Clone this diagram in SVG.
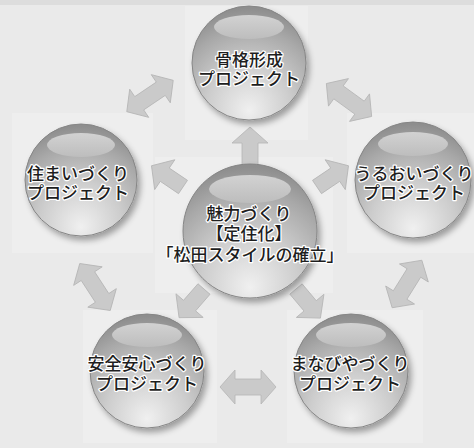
<svg xmlns="http://www.w3.org/2000/svg" xmlns:xlink="http://www.w3.org/1999/xlink" width="474" height="448" viewBox="0 0 474 448">
<defs>
<radialGradient id="ball" cx="50%" cy="82%" r="80%" fx="50%" fy="92%">
<stop offset="0" stop-color="#f0f0f0"/>
<stop offset="0.45" stop-color="#cdcdcd"/>
<stop offset="0.8" stop-color="#a8a8a8"/>
<stop offset="1" stop-color="#8e8e8e"/>
</radialGradient>
<linearGradient id="hl" x1="0" y1="0" x2="0" y2="1">
<stop offset="0" stop-color="#d2d2d2"/>
<stop offset="1" stop-color="#bdbdbd"/>
</linearGradient>
<filter id="sh" x="-30%" y="-30%" width="160%" height="160%">
<feGaussianBlur in="SourceAlpha" stdDeviation="3"/>
<feOffset dx="3" dy="4"/>
<feComponentTransfer><feFuncA type="linear" slope="0.35"/></feComponentTransfer>
<feMerge><feMergeNode/><feMergeNode in="SourceGraphic"/></feMerge>
</filter>
<path id="arr" d="M0,-8 L22,-8 L22,-18 L38,0 L22,18 L22,8 L0,8 Z"/>
<path id="dbl" d="M-28,0 L-13,-17 L-13,-8 L13,-8 L13,-17 L28,0 L13,17 L13,8 L-13,8 L-13,17 Z"/>
</defs>
<style>
.ball{fill:url(#ball);stroke:#858585;stroke-width:1}
.hl{fill:url(#hl)}
.ar{fill:#cacaca;stroke:#b5b5b5;stroke-width:0.8}
.t{font-family:"Noto Sans CJK JP","Noto Sans",sans-serif;font-size:17px;font-weight:500;fill:#1e1e1e;stroke:#ffffff;stroke-width:2.5;stroke-linejoin:round;paint-order:stroke;text-anchor:middle}
.pn{fill:#eeeeee}
</style>
<rect x="0" y="0" width="474" height="448" fill="#eaeaea"/>
<rect x="0" y="0" width="474" height="5" fill="#dddddd"/>
<rect class="pn" x="185" y="6" width="123" height="134"/>
<rect class="pn" x="12" y="113" width="141" height="140"/>
<rect class="pn" x="347" y="113" width="127" height="140"/>
<rect class="pn" x="155" y="157" width="178" height="136"/>
<rect class="pn" x="83" y="310" width="134" height="133"/>
<rect class="pn" x="287" y="310" width="136" height="133"/>

<g id="connectors">
<use xlink:href="#arr" class="ar" transform="translate(250,165) rotate(-90)"/>
<use xlink:href="#arr" class="ar" transform="translate(183,187) rotate(214)"/>
<use xlink:href="#arr" class="ar" transform="translate(317,187) rotate(-34)"/>
<use xlink:href="#arr" class="ar" transform="translate(204,289) rotate(131)"/>
<use xlink:href="#arr" class="ar" transform="translate(296,289) rotate(50)"/>
<use xlink:href="#dbl" class="ar" transform="translate(150,96) rotate(-34)"/>
<use xlink:href="#dbl" class="ar" transform="translate(349,100) rotate(36)"/>
<use xlink:href="#dbl" class="ar" transform="translate(95,287) rotate(57)"/>
<use xlink:href="#dbl" class="ar" transform="translate(407,284) rotate(122)"/>
<use xlink:href="#dbl" class="ar" transform="translate(248,387)"/>
</g>

<g id="node-top">
<circle class="ball" cx="249" cy="63" r="57" filter="url(#sh)"/>
<ellipse class="hl" cx="249" cy="27" rx="35" ry="12"/>
<text class="t" x="249" y="66">骨格形成<tspan x="249" dy="19">プロジェクト</tspan></text>
</g>
<g id="node-left">
<circle class="ball" cx="81" cy="180" r="56" filter="url(#sh)"/>
<ellipse class="hl" cx="81" cy="145" rx="34" ry="12"/>
<text class="t" x="78" y="180">住まいづくり<tspan x="78" dy="19">プロジェクト</tspan></text>
</g>
<g id="node-right">
<circle class="ball" cx="413" cy="180" r="58" filter="url(#sh)"/>
<ellipse class="hl" cx="413" cy="144" rx="35" ry="12"/>
<text class="t" x="414" y="180">うるおいづくり<tspan x="414" dy="19">プロジェクト</tspan></text>
</g>
<g id="node-center">
<circle class="ball" cx="250" cy="231" r="67" filter="url(#sh)"/>
<ellipse class="hl" cx="250" cy="189" rx="41" ry="14"/>
<text class="t" x="249" y="220">魅力づくり<tspan x="249" dy="20">【定住化】</tspan><tspan x="250" dy="21">「松田スタイルの確立」</tspan></text>
</g>
<g id="node-bottom-left">
<circle class="ball" cx="147" cy="371" r="57" filter="url(#sh)"/>
<ellipse class="hl" cx="147" cy="335" rx="35" ry="12"/>
<text class="t" x="147" y="370">安全安心づくり<tspan x="147" dy="20">プロジェクト</tspan></text>
</g>
<g id="node-bottom-right">
<circle class="ball" cx="351" cy="371" r="57" filter="url(#sh)"/>
<ellipse class="hl" cx="351" cy="335" rx="35" ry="12"/>
<text class="t" x="350" y="370">まなびやづくり<tspan x="350" dy="20">プロジェクト</tspan></text>
</g>
</svg>
